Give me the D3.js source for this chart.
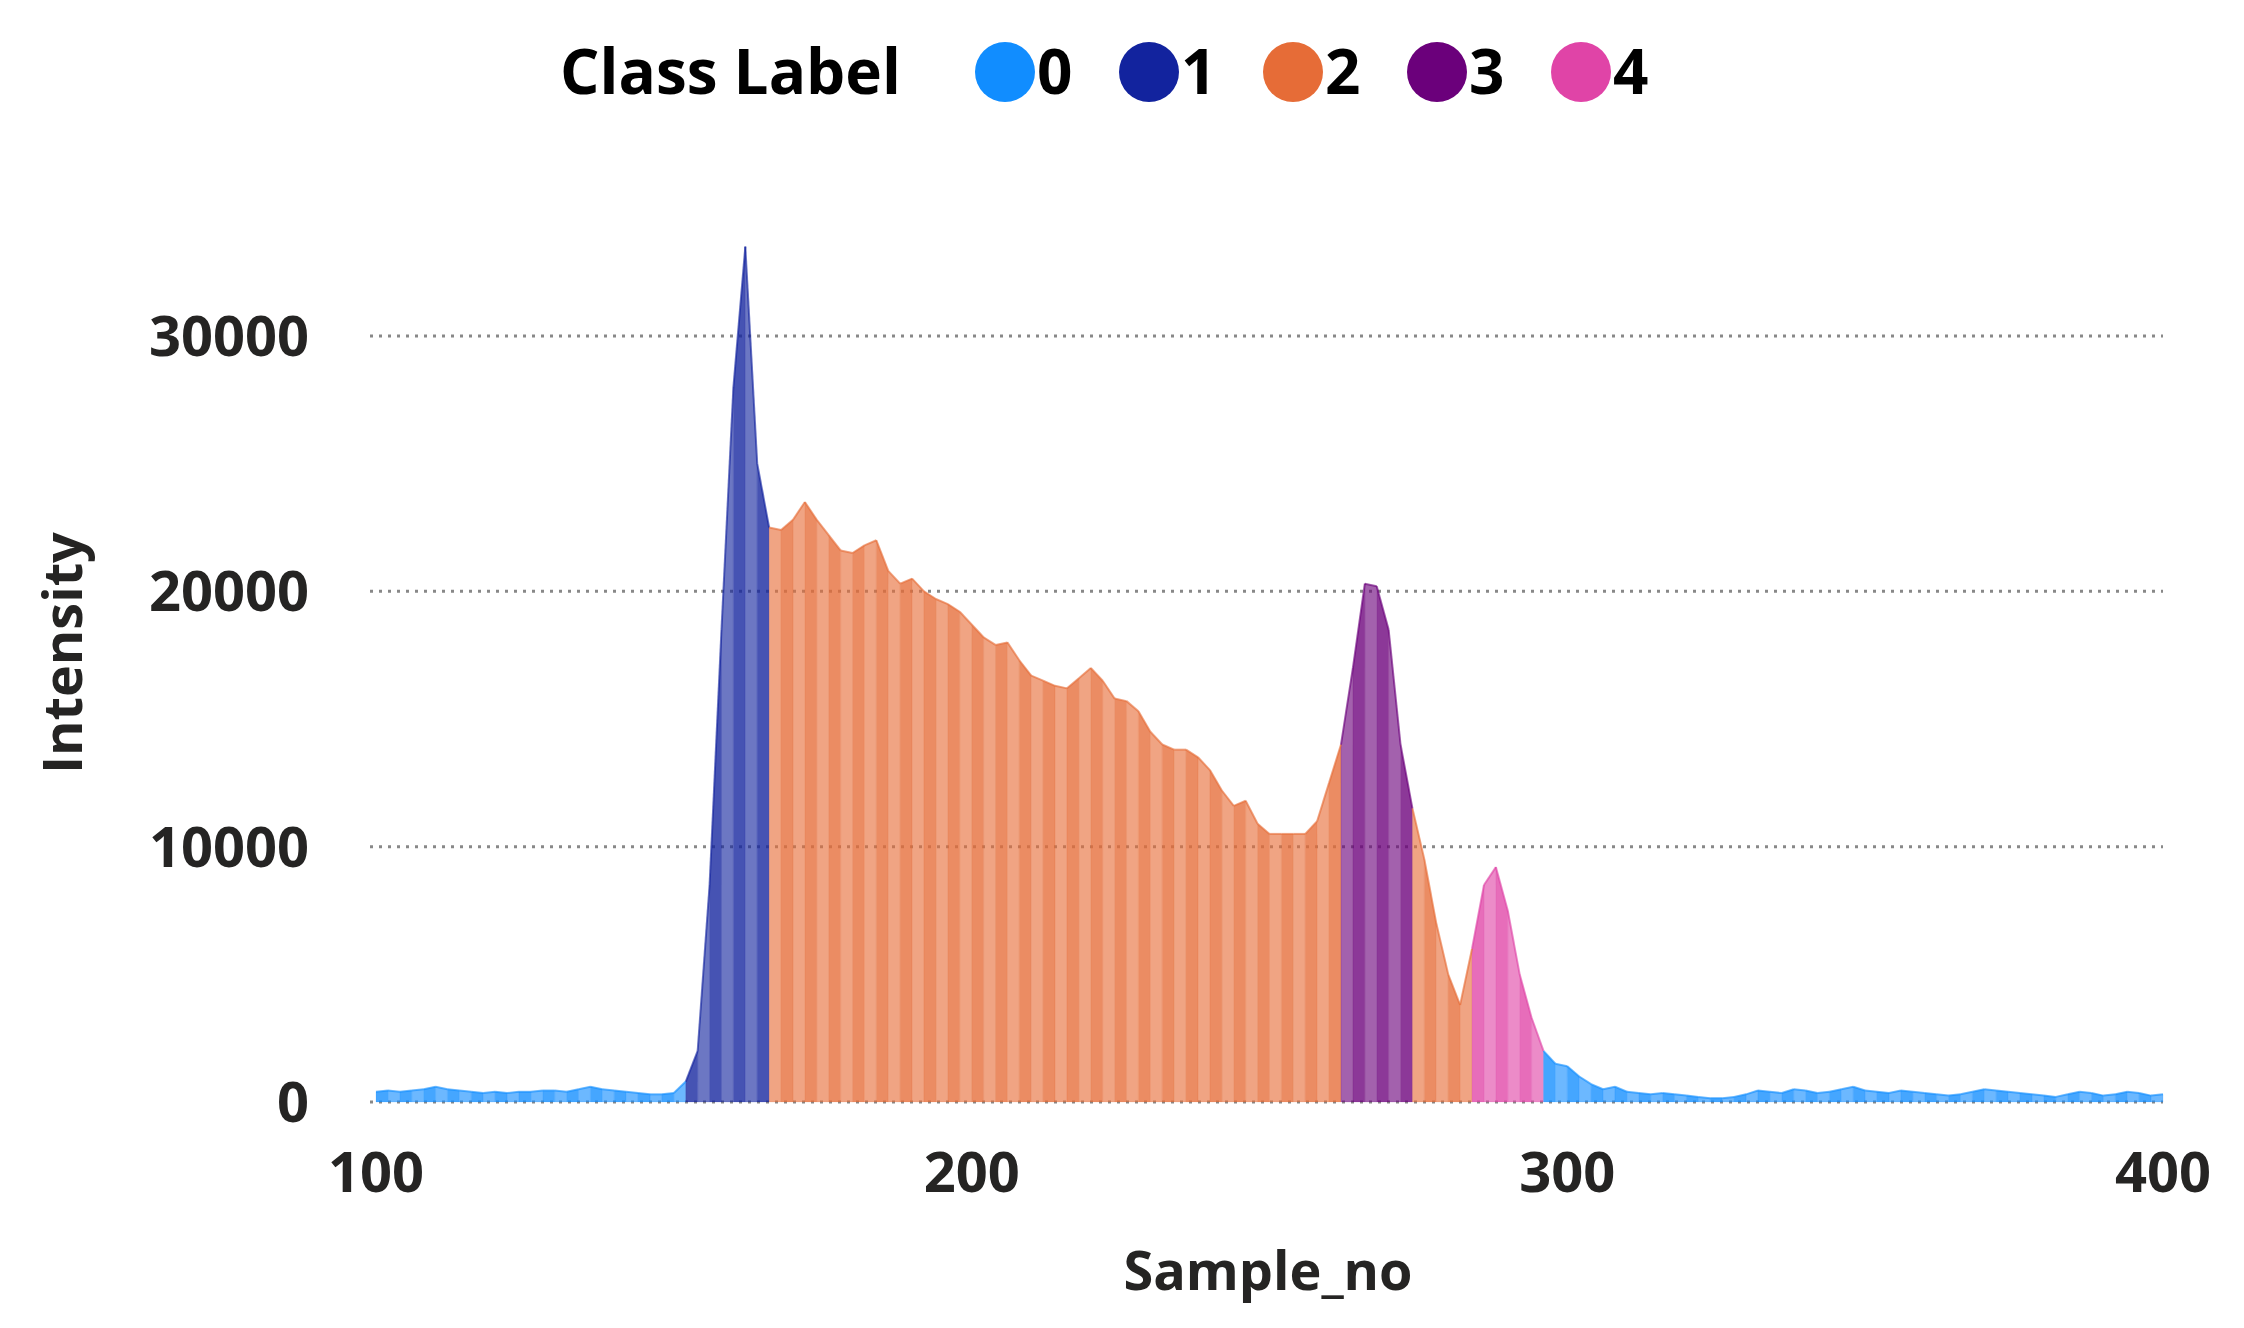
<!DOCTYPE html>
<html>
<head>
<meta charset="utf-8">
<script src="https://cdn.jsdelivr.net/npm/d3@7"></script>
<style>
  body { margin: 0; background: #fff; }
  text { font-family: "Open Sans", "Noto Sans", sans-serif; }
</style>
</head>
<body>
<svg id="chart" width="2244" height="1328"></svg>
<script>
// sample numbers (step 2) and their intensity / class
var samples = d3.range(100, 401, 2);
var intensity = [
    400, 450, 400, 450, 500, 600, 500, 450, 400, 350,      // 100-118
    400, 350, 400, 400, 450, 450, 400, 500, 600, 500,      // 120-138
    450, 400, 350, 300, 300, 350, 800, 2000, 8500, 18500,  // 140-158
    28000, 33500, 25000, 22500, 22400, 22800, 23500, 22800, 22200, 21600, // 160-178
    21500, 21800, 22000, 20800, 20300, 20500, 20000, 19700, 19500, 19200, // 180-198
    18700, 18200, 17900, 18000, 17300, 16700, 16500, 16300, 16200, 16600, // 200-218
    17000, 16500, 15800, 15700, 15300, 14500, 14000, 13800, 13800, 13500, // 220-238
    13000, 12200, 11600, 11800, 10900, 10500, 10500, 10500, 10500, 11000, // 240-258
    12500, 14000, 17000, 20300, 20200, 18500, 14000, 11500, 9500, 7000,   // 260-278
    5000, 3800, 6000, 8500, 9200, 7500, 5000, 3300, 2000, 1500,           // 280-298
    1400, 1000, 700, 500, 600, 400, 350, 300, 350, 300,                   // 300-318
    250, 200, 150, 150, 200, 300, 450, 400, 350, 500,                     // 320-338
    450, 350, 400, 500, 600, 450, 400, 350, 450, 400,                     // 340-358
    350, 300, 250, 300, 400, 500, 450, 400, 350, 300,                     // 360-378
    250, 200, 300, 400, 350, 250, 300, 400, 350, 250,                     // 380-398
    300                                                                   // 400
];
var classLabel = samples.map(function(s) {
    if (s >= 152 && s < 166) return 1;
    if (s >= 166 && s < 262) return 2;
    if (s >= 262 && s < 274) return 3;
    if (s >= 274 && s < 284) return 2;
    if (s >= 284 && s < 296) return 4;
    return 0;
});
var classNames = ["0", "1", "2", "3", "4"];
var classColors = ["#118DFF", "#12239E", "#E66C37", "#6B007B", "#E044A7"];
var yTicks = [0, 10000, 20000, 30000];
var xTicks = [100, 200, 300, 400];

var svg = d3.select("#chart");

var x = d3.scaleLinear().domain([100, 400]).range([376, 2163]);
var y = d3.scaleLinear().domain([0, 30000]).range([1102, 336]);

// gridlines
svg.append("g").selectAll("line").data(yTicks).enter().append("line")
    .attr("x1", 370).attr("x2", 2163)
    .attr("y1", d => y(d)).attr("y2", d => y(d))
    .attr("stroke", "#888").attr("stroke-width", 3)
    .attr("stroke-dasharray", "3,6");

// area built from segments between consecutive samples
var pts = samples.map((s, i) => ({ s: s, v: intensity[i], c: classLabel[i] }));
var area = d3.area().x(d => x(d.s)).y0(y(0)).y1(d => y(d.v));
var segs = svg.append("g");
for (var i = 0; i < pts.length - 1; i++) {
    segs.append("path")
        .attr("d", area([pts[i], pts[i + 1]]))
        .attr("fill", classColors[pts[i].c])
        .attr("fill-opacity", i % 2 === 0 ? 0.78 : 0.62)
        .attr("stroke", classColors[pts[i].c])
        .attr("stroke-opacity", 0.3)
        .attr("stroke-width", 0.5);
}
// top line
var line = d3.line().x(d => x(d.s)).y(d => y(d.v));
for (var i = 0; i < pts.length - 1; i++) {
    svg.append("path")
        .attr("d", line([pts[i], pts[i + 1]]))
        .attr("fill", "none")
        .attr("stroke", classColors[pts[i].c])
        .attr("stroke-opacity", 0.6)
        .attr("stroke-width", 2);
}

// axes (labels only)
svg.append("g").selectAll("text").data(yTicks).enter().append("text")
    .attr("x", 309).attr("y", d => y(d) + 20)
    .attr("text-anchor", "end")
    .attr("font-size", 56).attr("font-weight", 700).attr("fill", "#252423")
    .text(d => d);
svg.append("g").selectAll("text").data(xTicks).enter().append("text")
    .attr("x", d => x(d)).attr("y", 1192)
    .attr("text-anchor", "middle")
    .attr("font-size", 56).attr("font-weight", 700).attr("fill", "#252423")
    .text(d => d);

svg.append("text")
    .attr("x", 1268).attr("y", 1290)
    .attr("text-anchor", "middle")
    .attr("font-size", 54).attr("font-weight", 700).attr("fill", "#252423")
    .text("Sample_no");
svg.append("text")
    .attr("transform", "translate(82,653) rotate(-90)")
    .attr("text-anchor", "middle")
    .attr("font-size", 54).attr("font-weight", 700).attr("fill", "#252423")
    .text("Intensity");

// legend
svg.append("text")
    .attr("x", 560).attr("y", 94)
    .attr("font-size", 62).attr("font-weight", 700).attr("fill", "#000")
    .text("Class Label");
var leg = svg.append("g").selectAll("g").data(classNames).enter().append("g")
    .attr("transform", (d, i) => "translate(" + (1005 + i * 144) + ",72)");
leg.append("circle").attr("r", 30).attr("fill", (d, i) => classColors[i]);
leg.append("text").attr("x", 32).attr("y", 22)
    .attr("font-size", 62).attr("font-weight", 700).attr("fill", "#000")
    .text(d => d);
</script>
</body>
</html>
